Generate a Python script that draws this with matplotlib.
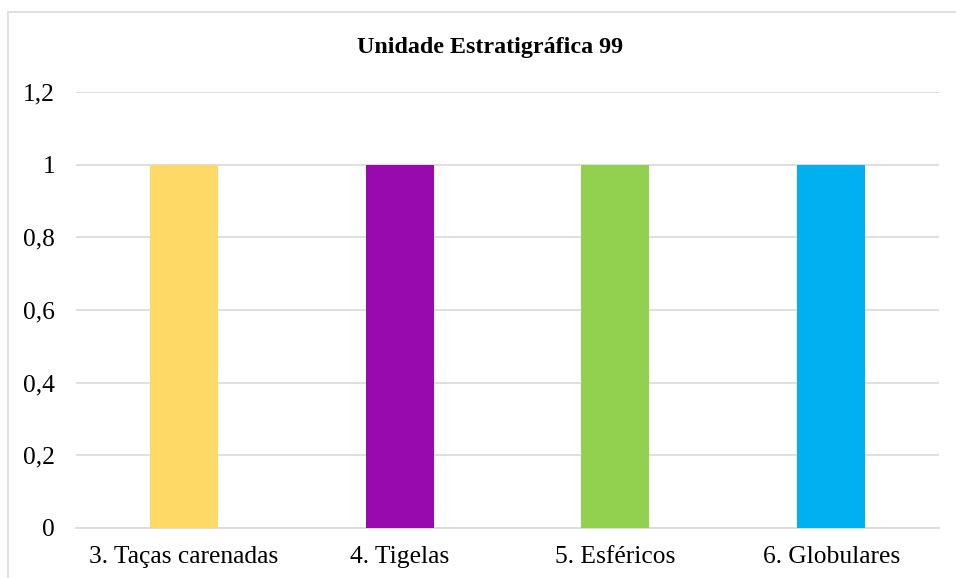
import matplotlib.pyplot as plt
from matplotlib.patches import Rectangle
from matplotlib.ticker import FuncFormatter

categorias = ["3. Taças carenadas", "4. Tigelas", "5. Esféricos", "6. Globulares"]
valores = [1, 1, 1, 1]
cores = ["#FFD966", "#990AAE", "#92D050", "#00B0F0"]
ticks_y = [0, 0.2, 0.4, 0.6, 0.8, 1.0, 1.2]

plt.rcParams["font.family"] = ["Liberation Serif", "DejaVu Serif"]

fig = plt.figure(figsize=(9.56, 5.78), dpi=100)
# moldura do gráfico (estilo Excel, cortada à direita e em baixo)
fig.patches.append(Rectangle((8 / 956, -0.1), 1.2, 1 - 12 / 578 + 0.1,
                             transform=fig.transFigure, fill=False,
                             edgecolor="#D9D9D9", linewidth=1.2))

ax = fig.add_axes([76 / 956, 1 - 528 / 578, (939 - 76) / 956, (528 - 92) / 578])
x = range(len(categorias))
ax.bar(x, valores, width=0.315, color=cores, zorder=3)

ax.set_xlim(-0.5, len(categorias) - 0.5)
ax.set_ylim(0, 1.2)
ax.set_yticks(ticks_y)
ax.yaxis.set_major_formatter(FuncFormatter(lambda v, p: ("%g" % round(v, 1)).replace(".", ",")))
ax.set_xticks(list(x))
ax.set_xticklabels(categorias)
ax.tick_params(axis="both", length=0, labelsize=18.4, colors="black")
ax.tick_params(axis="y", pad=15)
ax.tick_params(axis="x", pad=13)
ax.grid(axis="y", color="#D9D9D9", linewidth=1.2, zorder=0)
for s in ["top", "right", "left"]:
    ax.spines[s].set_visible(False)
ax.spines["bottom"].set_color("#D9D9D9")
ax.spines["bottom"].set_linewidth(1.2)

fig.text(490 / 956, 1 - 48 / 578, "Unidade Estratigráfica 99", ha="center", va="center",
         fontsize=17.3, fontweight="bold")

fig.savefig("out.png", dpi=100)
